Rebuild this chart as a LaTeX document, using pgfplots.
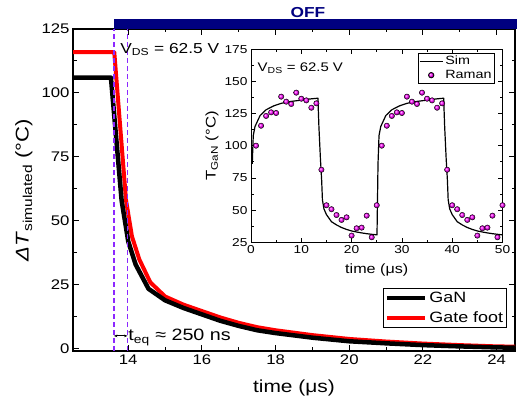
\documentclass[border=0pt]{standalone}
\usepackage{pgfplots}
\pgfplotsset{compat=1.18}
\usepackage{pgfplotstable}
\usepackage{fontspec}
\setmainfont{Liberation Sans}[FakeStretch=1.2]
\usetikzlibrary{arrows.meta}
\definecolor{offnavy}{RGB}{0,0,128}
\definecolor{dashviolet}{RGB}{140,40,255}
\definecolor{ramanmag}{RGB}{255,0,255}
\pgfdeclareplotmark{myball}{\shade[ball color=ramanmag] (0pt,0pt) circle (\pgfplotmarksize);}
\newcommand{\fs}[1]{\fontsize{#1}{#1}\selectfont}
\pgfplotsset{
  longline/.style={legend image code/.code={\draw[##1] (0bp,0bp) -- (38bp,0bp);}},
  shortline/.style={legend image code/.code={\draw[##1] (0bp,0bp) -- (23bp,0bp);}},
  onemark/.style={legend image code/.code={\draw[##1] plot coordinates {(11.5bp,0bp)};}},
}

\pgfplotstableread{
t T
12.5 106
13.53 106
13.82 58
14.0 42
14.2 33
14.55 23.5
15.0 19
15.5 16
16.0 13.5
16.5 11
17.0 9
17.5 7.3
18.0 6.2
19.0 4.4
20.0 3.0
21.0 2.2
22.0 1.5
23.0 1.0
24.0 0.6
24.5 0.5
}\gandata

\pgfplotstableread{
t T
12.5 116
13.62 116
13.94 58
14.1 44
14.3 35
14.6 26
15.0 20.5
15.5 17.3
16.0 14.8
16.5 12.3
17.0 10.2
17.5 8.5
18.0 7.3
19.0 5.4
20.0 3.9
21.0 2.9
22.0 2.1
23.0 1.5
24.0 1.0
24.5 0.9
}\gatedata

\pgfplotstableread{
t T
0.25 86
0.45 108
0.8 115
1.8 123.5
3 128
4.5 131
6 133
8 134.5
10 135.5
12 136.5
13.3 137
13.5 115
13.8 90
14.05 73
14.2 58
14.5 51
15 46.5
16 41
17 38.5
18 36.5
19 35
20 33.8
21 33
22 32.3
23 31.7
24 31.2
25.05 30.8
25.25 86
25.45 108
25.8 115
26.8 123.5
28 128
29.5 131
31 133
33 134.5
35 135.5
37 136.5
38.3 137
38.5 115
38.8 90
39.05 73
39.2 58
39.5 51
40 46.5
41 41
42 38.5
43 36.5
44 35
45 33.8
46 33
47 32.3
48 31.7
49 31.2
50 30.8
}\simdata

\pgfplotstableread{
t T
1 100.1
2 115.6
3 123.2
4 126
5 125.5
6 138.2
7 134.3
8 132.5
9 141.3
10 136.6
11 135.3
12 129.6
13 133
14 81.4
15 53.8
16 50.7
17 46.2
18 42.4
19 44.4
20 30.2
21 35.9
22 36.4
23 45.7
24 28.9
25 53.8
26 100.1
27 115.6
28 123.2
29 126
30 125.5
31 138.2
32 134.3
33 132.5
34 141.3
35 136.6
36 135.3
37 129.6
38 133
39 81.4
40 53.8
41 50.7
42 46.2
43 42.4
44 44.4
45 30.2
46 35.9
47 36.4
48 45.7
49 28.9
50 53.8
}\ramandata

\begin{document}
\begin{tikzpicture}
\useasboundingbox (0,0) rectangle (517bp,400bp);
\begin{axis}[
  at={(73bp,49bp)}, anchor=south west,
  scale only axis, width=442bp, height=322bp,
  xmin=12.5, xmax=24.5, ymin=-0.8, ymax=125,
  xtick={14,16,...,24}, ytick={0,25,...,125},
  minor x tick num=1, minor y tick num=1,
  tick align=inside,
  major tick length=6bp, minor tick length=3.5bp,
  axis line style={line width=1.1bp},
  every tick/.style={black, line width=1bp},
  tick label style={font=\fs{14}},
  /pgf/number format/assume math mode=true,
  /pgf/number format/1000 sep={},
  xlabel={time (μs)},
  ylabel={\textit{ΔT}\textsubscript{simulated} (°C)},
  xlabel style={font=\fs{17.5}, at={(axis description cs:0.5,-0.115)}, anchor=center},
  ylabel style={font=\fs{18.5}, at={(axis description cs:-0.111,0.5)}, anchor=center},
  clip=false,
  legend style={at={(rel axis cs:0.982,0.071)}, anchor=south east, font=\fs{15},
    draw=black, line width=0.8bp, inner sep=1.5bp, row sep=4bp,
    nodes={inner sep=2bp}},
  legend cell align=left,
]
\addlegendimage{black, line width=4.5bp, longline}
\addlegendentry{GaN}
\addlegendimage{red, line width=4bp, longline}
\addlegendentry{Gate foot}
\addplot[red, line width=4bp, line join=round, forget plot] table[x=t,y=T] {\gatedata};
\addplot[black, line width=4.5bp, line join=round, forget plot] table[x=t,y=T] {\gandata};
\fill[offnavy] (axis cs:13.61,125) rectangle (axis cs:24.56,128.9);
\node[anchor=base, font=\fs{14.5}\bfseries, text=offnavy, inner sep=0] at (axis cs:18.88,129.4) {OFF};
\draw[dashviolet, line width=1.6bp, dash pattern=on 5bp off 3bp] (axis cs:13.61,-0.8) -- (axis cs:13.61,125);
\draw[dashviolet, line width=1.6bp, dash pattern=on 5bp off 3bp] (axis cs:13.98,-0.8) -- (axis cs:13.98,125);
\draw[{Stealth[length=3.5bp]}-{Stealth[length=3.5bp]}, line width=1bp] (axis cs:13.61,5.1) -- (axis cs:13.98,5.1);
\node[anchor=base west, font=\fs{16.5}, inner sep=0] at (axis cs:14.0,3.2) {t\textsubscript{eq} ≈ 250 ns};
\node[anchor=base west, font=\fs{14.5}, inner sep=0] at (axis cs:13.78,115.6) {V\textsubscript{DS} = 62.5 V};
\end{axis}

\begin{axis}[
  at={(251bp,157.7bp)}, anchor=south west,
  scale only axis, width=251.5bp, height=193bp,
  xmin=0, xmax=50, ymin=25, ymax=175,
  xtick={0,10,...,50}, ytick={25,50,...,175},
  minor x tick num=1, minor y tick num=1,
  tick align=inside,
  major tick length=4.5bp, minor tick length=2.5bp,
  axis line style={line width=0.9bp},
  every tick/.style={black, line width=0.8bp},
  tick label style={font=\fs{11.5}},
  /pgf/number format/assume math mode=true,
  axis background/.style={fill=white},
  xlabel={time (μs)},
  ylabel={T\textsubscript{GaN} (°C)},
  xlabel style={font=\fs{13.5}, at={(axis description cs:0.5,-0.145)}, anchor=center},
  ylabel style={font=\fs{14}, at={(axis description cs:-0.155,0.5)}, anchor=center},
  legend style={at={(rel axis cs:0.970,0.982)}, anchor=north east, font=\fs{12},
    draw=black, line width=0.8bp, inner sep=1bp, row sep=0bp, nodes={inner sep=2bp}},
  legend cell align=left,
]
\addplot[black, line width=1.2bp, line join=round, shortline] table[x=t,y=T] {\simdata};
\addlegendentry{Sim}
\addplot[only marks, mark=myball, mark size=2.7bp, onemark] table[x=t,y=T] {\ramandata};
\addlegendentry{Raman}
\node[anchor=base west, font=\fs{12.5}, inner sep=0] at (axis cs:1.3,158) {V\textsubscript{DS} = 62.5 V};
\end{axis}
\end{tikzpicture}
\end{document}
